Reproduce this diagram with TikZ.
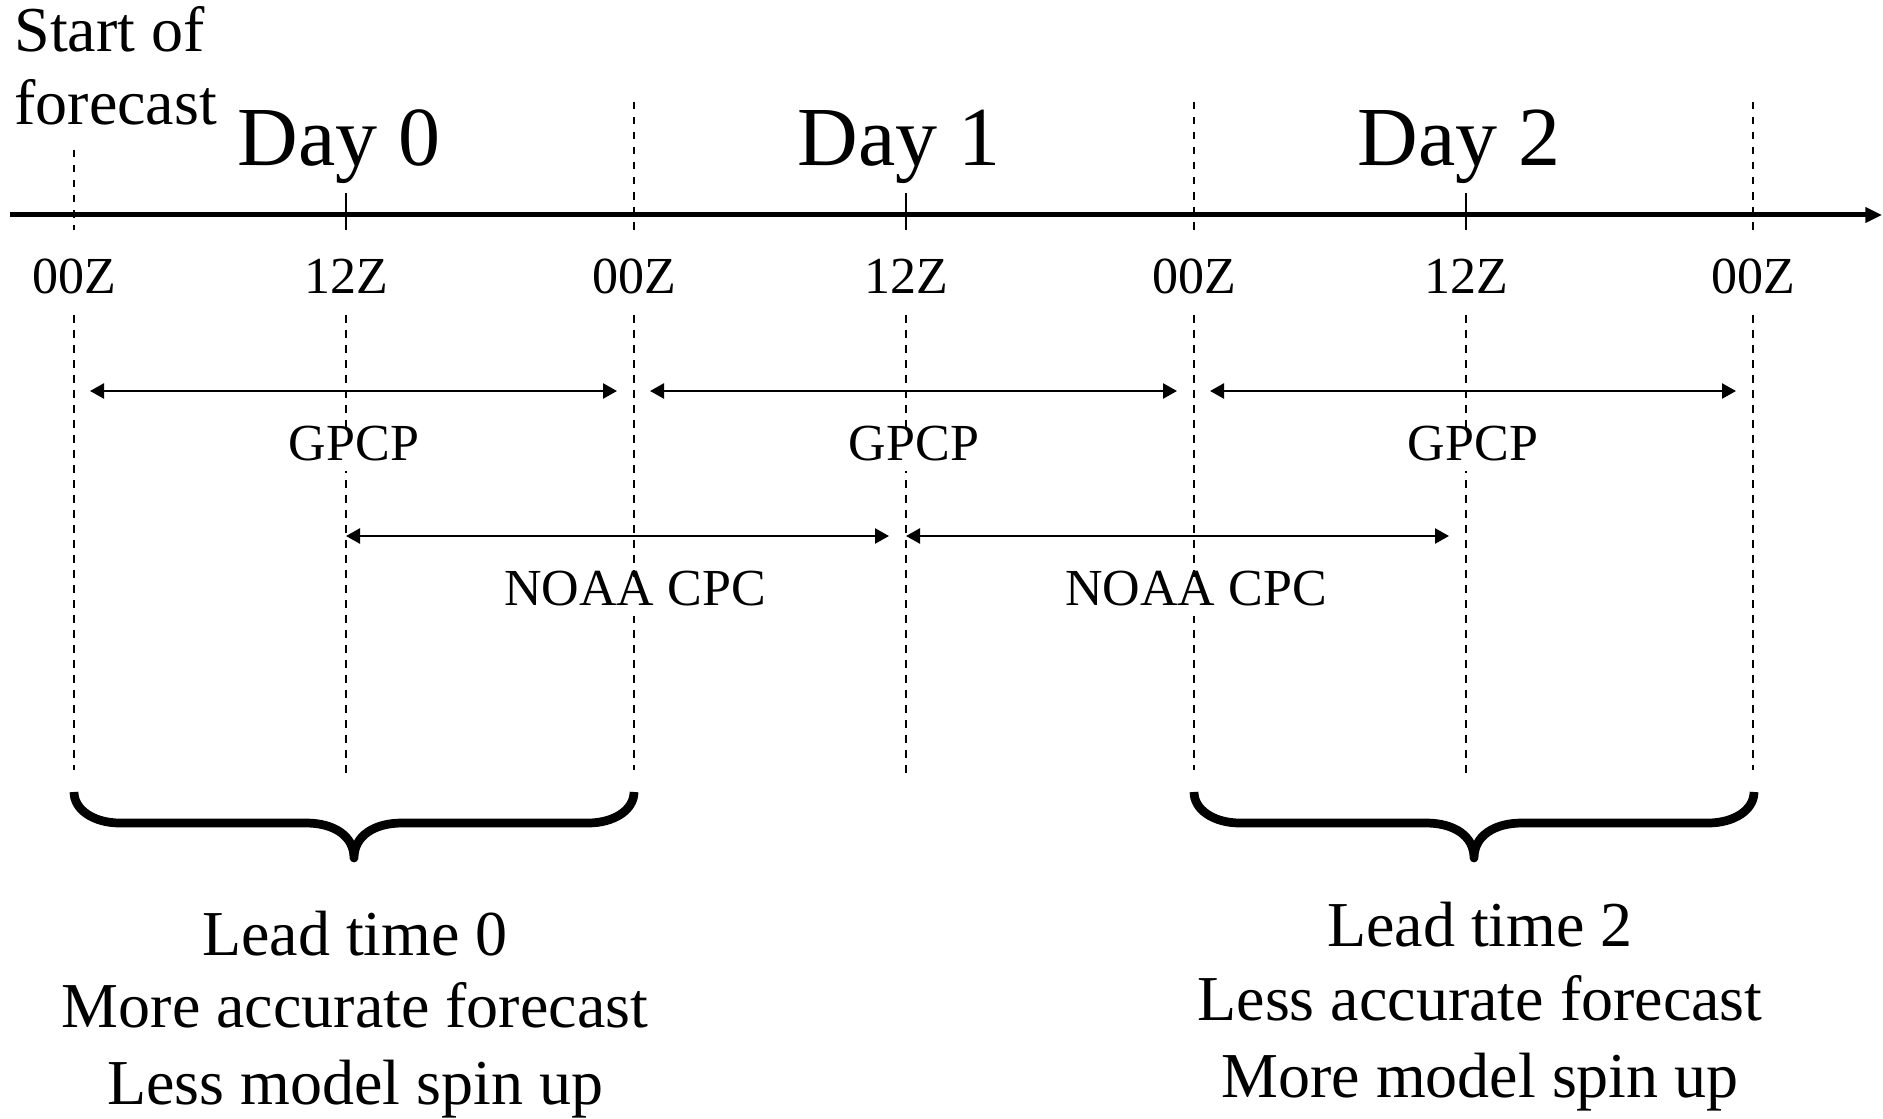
\documentclass[tikz,border=0pt]{standalone}
\usepackage{fontspec}
\setmainfont{Liberation Serif}
\usetikzlibrary{arrows.meta}

\begin{document}
\begin{tikzpicture}[x=0.4pt,y=-0.4pt,
  axisline/.style={line width=2pt,-{Triangle[length=6.7pt,width=6pt]}},
  gridline/.style={line width=0.6pt,dash pattern=on 3pt off 3pt},
  ticksolid/.style={line width=0.7pt},
  span/.style={line width=1pt,{Triangle[length=5.6pt,width=6pt]}-{Triangle[length=5.6pt,width=6pt]}},
  bracepath/.style={line width=3.5pt,line join=round},
  daylabel/.style={font=\fontsize{33.6}{40}\selectfont,anchor=base,inner sep=0pt},
  hourlabel/.style={font=\fontsize{20.8}{25}\selectfont,anchor=base,inner sep=0pt},
  srclabel/.style={font=\fontsize{20.8}{25}\selectfont,anchor=base,fill=white,
    inner xsep=2pt,inner ysep=2pt,text height=0.92em,text depth=0.23em},
  starttext/.style={font=\fontsize{25.6}{29}\selectfont,anchor=base west,inner sep=0pt},
  leadtext/.style={font=\fontsize{25.6}{30}\selectfont,anchor=base,inner sep=0pt}]
\useasboundingbox (0,0) rectangle (1883,1118);

% time axis
\coordinate (axstart) at (10,215);
\coordinate (axend) at (1882,215);
\draw[axisline] (axstart) -- (axend);

% 00Z marks: dashed guide lines above and below the hour labels
\foreach \n/\x/\t in {a/74/150, c/634/102, e/1194/102, g/1753/102} {
  \coordinate (top\n) at (\x,\t);
  \coordinate (ax\n) at (\x,230);
  \coordinate (lo\n) at (\x,315);
  \coordinate (bot\n) at (\x,770);
  \draw[gridline] (top\n) -- (ax\n) (lo\n) -- (bot\n);
  \node[hourlabel] (lab\n) at (\x,293) {00Z};
}

% 12Z marks: short solid tick on the axis, dashed guide below
\foreach \n/\x in {b/346, d/906, f/1466} {
  \coordinate (top\n) at (\x,193);
  \coordinate (ax\n) at (\x,230);
  \coordinate (lo\n) at (\x,315);
  \coordinate (bot\n) at (\x,776);
  \draw[ticksolid] (top\n) -- (ax\n);
  \draw[gridline] (lo\n) -- (bot\n);
  \node[hourlabel] (lab\n) at (\x,293) {12Z};
}

% day titles
\node[daylabel] (day0) at (339,166) {Day 0};
\node[daylabel] (day1) at (899,166) {Day 1};
\node[daylabel] (day2) at (1459,166) {Day 2};

\node[starttext] (start1) at (14,52) {Start of};
\node[starttext] (start2) at (14,125) {forecast};

% GPCP daily windows (00Z to 00Z)
\coordinate (g1l) at (90,391);   \coordinate (g1r) at (617,391);
\coordinate (g2l) at (650,391);  \coordinate (g2r) at (1177,391);
\coordinate (g3l) at (1210,391); \coordinate (g3r) at (1736,391);
\node[srclabel] (gpcp1) at (354,460) {GPCP};
\node[srclabel] (gpcp2) at (914,460) {GPCP};
\node[srclabel] (gpcp3) at (1473,460) {GPCP};
\draw[span] (g1l) -- (g1r);
\draw[span] (g2l) -- (g2r);
\draw[span] (g3l) -- (g3r);

% NOAA CPC daily windows (12Z to 12Z)
\coordinate (n1l) at (346,536); \coordinate (n1r) at (889,536);
\coordinate (n2l) at (906,536); \coordinate (n2r) at (1449,536);
\node[srclabel] (cpc1) at (635,605) {NOAA CPC};
\node[srclabel] (cpc2) at (1196,605) {NOAA CPC};
\draw[span] (n1l) -- (n1r);
\draw[span] (n2l) -- (n2r);

% braces grouping the lead times
\draw[bracepath] (74,792) .. controls (74,810) and (94,823) .. (120,823)
  -- (306,823) .. controls (334,823) and (354,836) .. (354,858)
  .. controls (354,836) and (374,823) .. (402,823)
  -- (588,823) .. controls (614,823) and (634,810) .. (634,792);
\draw[bracepath] (1194,792) .. controls (1194,810) and (1214,823) .. (1240,823)
  -- (1426,823) .. controls (1454,823) and (1474,836) .. (1474,858)
  .. controls (1474,836) and (1494,823) .. (1522,823)
  -- (1708,823) .. controls (1734,823) and (1754,810) .. (1754,792);

% lead time descriptions
\node[leadtext] (lt0a) at (355,955) {Lead time 0};
\node[leadtext] (lt0b) at (355,1027) {More accurate forecast};
\node[leadtext] (lt0c) at (355,1104) {Less model spin up};
\node[leadtext] (lt2a) at (1480,946) {Lead time 2};
\node[leadtext] (lt2b) at (1480,1020) {Less accurate forecast};
\node[leadtext] (lt2c) at (1480,1097) {More model spin up};
\end{tikzpicture}
\end{document}
